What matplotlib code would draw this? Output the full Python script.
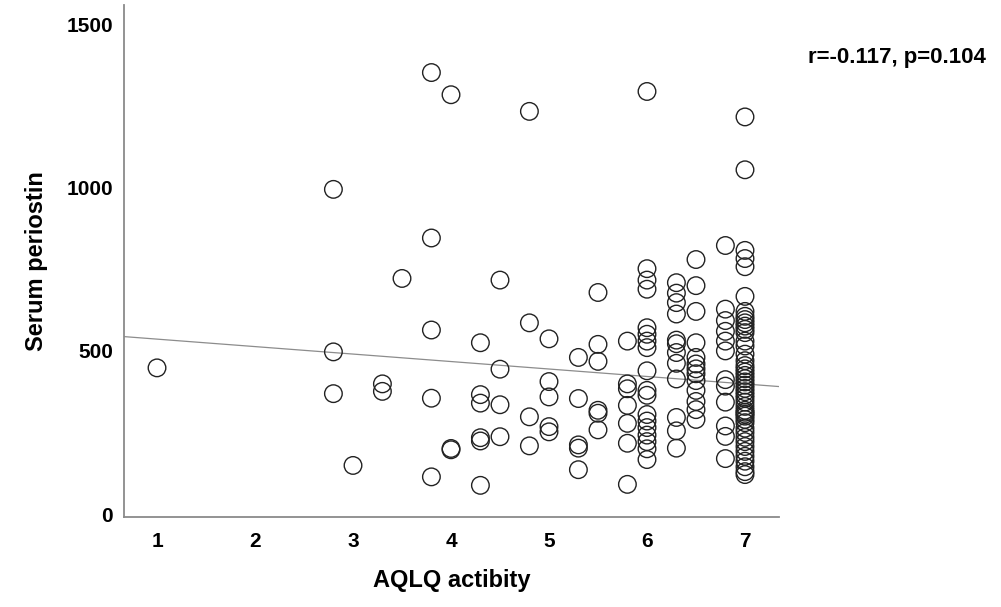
import numpy as np
import matplotlib
matplotlib.use("Agg")
import matplotlib.pyplot as plt

plt.rcParams["font.family"] = ["Liberation Sans", "DejaVu Sans"]

# AQLQ activity score (x) and serum periostin (y), one line per x column
aqlq = ([1.0] + [2.8] * 3 + [3.0] + [3.3] * 2 + [3.5] + [3.8] * 5 + [4.0] * 3
        + [4.3] * 6 + [4.5] * 4 + [4.8] * 4 + [5.0] * 5 + [5.3] * 5 + [5.5] * 6
        + [5.8] * 7 + [6.0] * 18 + [6.3] * 12 + [6.5] * 13 + [6.8] * 12 + [7.0] * 47)
periostin = [
    448,
    995, 497, 369,
    149,
    399, 376,
    722,
    1353, 846, 564, 355, 114,
    1285, 197, 201,
    525, 366, 340, 234, 224, 88,
    717, 444, 335, 237,
    1234, 586, 298, 209,
    537, 406, 359, 268, 252,
    480, 354, 212, 202, 136,
    679, 520, 468, 318, 309, 258,
    530, 399, 384, 333, 278, 217, 91,
    1295, 752, 717, 689, 571, 551, 530, 510, 439, 379, 364, 305, 285, 265, 242, 222, 200, 167,
    709, 677, 648, 613, 533, 522, 495, 462, 414, 296, 255, 202,
    780, 700, 621, 525, 480, 460, 445, 430, 409, 379, 345, 320, 290,
    823, 628, 593, 560, 530, 500, 412, 392, 343, 270, 238, 170,
    1217, 1055, 808, 783, 758, 667, 621, 606, 596, 586, 576, 566, 556, 530, 515,
    490, 470, 455, 445, 435, 425, 415, 405, 395, 385, 375, 365, 355, 343, 330,
    318, 312, 306, 300, 290, 280, 263, 250, 235, 222, 207, 192, 177, 162, 145,
    130, 121,
]

# linear fit line as shown in the picture
fit_intercept = 559.0
fit_slope = -22.9
stats_text = "r=-0.117, p=0.104"

fig = plt.figure(figsize=(10.01, 6.07), dpi=100)
ax = fig.add_axes([124 / 1001, 1 - 517 / 607, 655 / 1001, 512 / 607])

xlim = (0.663, 7.347)
ax.set_xlim(*xlim)
ax.set_ylim(-9, 1560)

xx = np.array(xlim)
ax.plot(xx, fit_intercept + fit_slope * xx, color="#8c8c8c", lw=0.9, zorder=1)
ax.scatter(aqlq, periostin, s=160, facecolors="none", edgecolors="#222222",
           linewidths=1.0, zorder=2)

ax.set_xticks(range(1, 8))
ax.set_yticks([0, 500, 1000, 1500])
ax.tick_params(length=0, labelsize=15)
ax.tick_params(axis="x", pad=11)
ax.tick_params(axis="y", pad=8)
for lab in ax.get_xticklabels() + ax.get_yticklabels():
    lab.set_fontweight("bold")

for s in ("top", "right"):
    ax.spines[s].set_visible(False)
for s in ("left", "bottom"):
    ax.spines[s].set_color("#8a8a8a")
    ax.spines[s].set_linewidth(1.3)

ax.set_xlabel("AQLQ actibity", fontsize=17, fontweight="bold", labelpad=13)
ax.set_ylabel("Serum periostin", fontsize=17, fontweight="bold", labelpad=13)

fig.text(808 / 1001, 1 - 58 / 607, stats_text, fontsize=16, fontweight="bold",
         ha="left", va="center")

fig.savefig("out.png", dpi=100)
